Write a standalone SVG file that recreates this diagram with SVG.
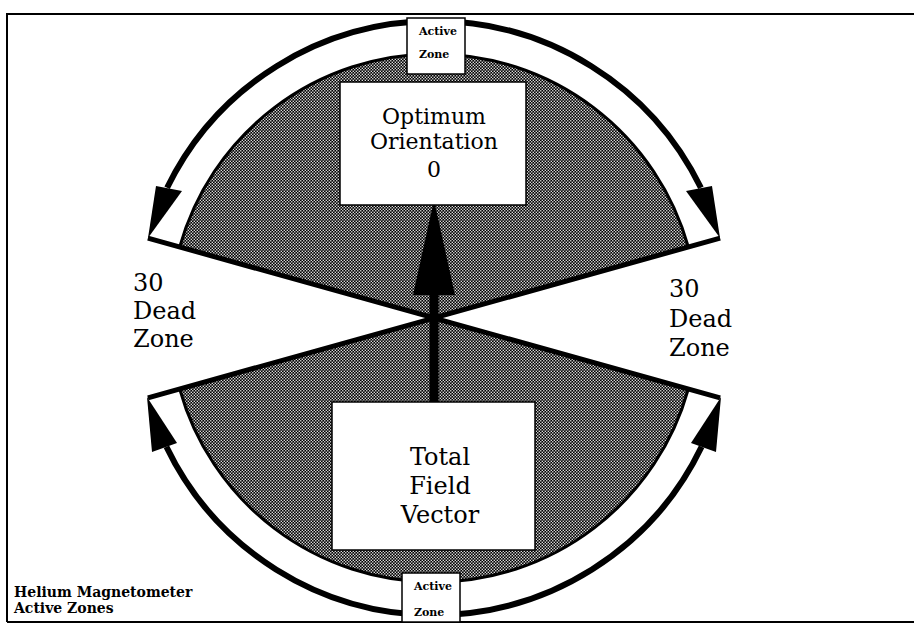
<svg xmlns="http://www.w3.org/2000/svg" width="914" height="626" viewBox="0 0 914 626">
<defs>
<pattern id="dots" width="4" height="4" patternUnits="userSpaceOnUse" patternTransform="scale(0.75)">
<rect width="4" height="4" fill="#000"/>
<rect x="0.2" y="0.2" width="1.7" height="1.7" fill="#fff"/>
<rect x="2.2" y="2.2" width="1.7" height="1.7" fill="#fff"/>
</pattern>
<style>
.lbl{font-family:"DejaVu Serif","Liberation Serif",serif;fill:#000;text-anchor:middle}
.big{font-size:22px}
.dead{font-family:"DejaVu Serif","Liberation Serif",serif;font-size:24px;fill:#000}
.small{font-family:"DejaVu Serif","Liberation Serif",serif;font-size:11px;font-weight:bold;fill:#000}
.cap{font-family:"DejaVu Serif","Liberation Serif",serif;font-size:14px;font-weight:bold;fill:#000}
.box{fill:#fff;stroke:#000;stroke-width:1.5}
.arc{fill:none;stroke:#000;stroke-width:6}
.inarc{fill:none;stroke:#000;stroke-width:3}
.ray{fill:none;stroke:#000;stroke-width:5;stroke-linejoin:miter}
</style>
</defs>
<rect width="914" height="626" fill="#fff"/>
<g id="frame" fill="none" stroke="#000" stroke-width="2">
<path d="M7,622 V14 H914"/>
<path d="M7,622 H914"/>
</g>
<g id="sectors">
<path d="M434,318 L147.9,238.1 A297,297 0 0 1 720.1,238.1 Z" fill="#fff"/>
<path d="M434,318 L179.7,247 A264,264 0 0 1 688.3,247 Z" fill="url(#dots)"/>
<path class="inarc" d="M179.7,247 A264,264 0 0 1 688.3,247"/>
<path d="M434,318 L147.9,397.9 A297,297 0 0 0 720.1,397.9 Z" fill="#fff"/>
<path d="M434,318 L179.7,389 A264,264 0 0 0 688.3,389 Z" fill="url(#dots)"/>
<path class="inarc" d="M179.7,389 A264,264 0 0 0 688.3,389"/>
</g>
<g id="connectors">
<path class="ray" d="M147.9,238.1 L434,318 L720.1,238.1"/>
<path class="ray" d="M147.9,397.9 L434,318 L720.1,397.9"/>
<path class="arc" d="M167.1,187.8 A297,297 0 0 1 700.9,187.8"/>
<path class="arc" d="M166.4,446.8 A297,297 0 0 0 701.6,446.8"/>
<polygon points="148,238 156,186 182,191" fill="#000"/>
<polygon points="720,238 712,186 686,191" fill="#000"/>
<polygon points="147,397 152,452 177,443" fill="#000"/>
<polygon points="721,397 716,452 691,443" fill="#000"/>
<rect x="429.5" y="290" width="9" height="114" fill="#000"/>
<polygon points="434,200 413,295 455,295" fill="#000"/>
</g>
<g id="optimum">
<rect class="box" x="340" y="82" width="186" height="123"/>
<text class="lbl big" x="434" y="124">Optimum</text>
<text class="lbl big" x="434" y="149">Orientation</text>
<text class="lbl big" x="434" y="177">0</text>
</g>
<g id="total-field">
<rect class="box" x="332" y="402" width="203" height="148"/>
<text class="lbl" font-size="24" x="440" y="465">Total</text>
<text class="lbl" font-size="24" x="440" y="494">Field</text>
<text class="lbl" font-size="24" x="440" y="523">Vector</text>
</g>
<g id="active-top">
<rect class="box" x="407" y="18" width="58" height="56"/>
<text class="small" x="419" y="35">Active</text>
<text class="small" x="419" y="58">Zone</text>
</g>
<g id="active-bottom">
<rect class="box" x="402" y="573" width="58" height="49"/>
<text class="small" x="414" y="590">Active</text>
<text class="small" x="414" y="616">Zone</text>
</g>
<g id="dead-left">
<text class="dead" x="133" y="291">30</text>
<text class="dead" x="133" y="319">Dead</text>
<text class="dead" x="133" y="347">Zone</text>
</g>
<g id="dead-right">
<text class="dead" x="669" y="297">30</text>
<text class="dead" x="669" y="327">Dead</text>
<text class="dead" x="669" y="356">Zone</text>
</g>
<g id="caption">
<text class="cap" x="14" y="597">Helium Magnetometer</text>
<text class="cap" x="14" y="613">Active Zones</text>
</g>
</svg>
